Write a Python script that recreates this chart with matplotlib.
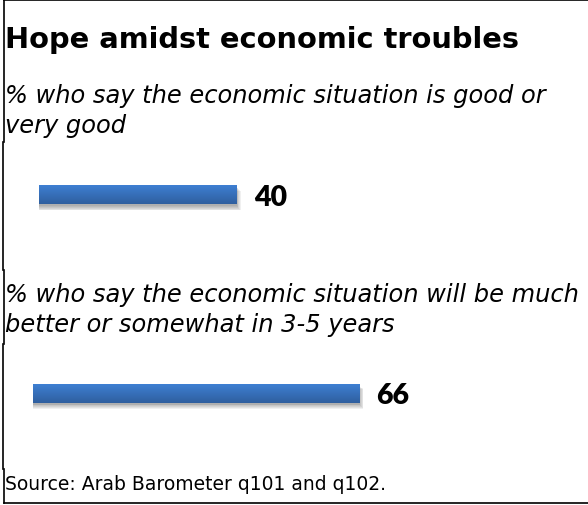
import numpy as np
import matplotlib.pyplot as plt
from matplotlib.lines import Line2D
from matplotlib.patches import Rectangle

title = "Hope amidst economic troubles"
questions = [
    "% who say the economic situation is good or\nvery good",
    "% who say the economic situation will be much\nbetter or somewhat in 3-5 years",
]
values = [40, 66]
source = "Source: Arab Barometer q101 and q102."

W, H = 588, 506
fig = plt.figure(figsize=(W / 100, H / 100), dpi=100)
fig.patch.set_facecolor("white")


def fx(px):
    return px / W


def fy(py):
    return 1 - py / H


# frame lines (slightly ragged on the left, as pasted panels)
frame = [
    ((4, 588), (1, 1)),
    ((4, 588), (504, 504)),
    ((4, 4), (1, 143)),
    ((3, 3), (143, 271)),
    ((4, 4), (271, 345)),
    ((3, 3), (345, 470)),
    ((4, 4), (470, 504)),
]
for xs, ys in frame:
    fig.add_artist(Line2D([fx(x) for x in xs], [fy(y) for y in ys],
                          color="black", lw=1.2, transform=fig.transFigure))

fig.text(fx(5), fy(47.5), title, fontsize=20.8, fontweight="bold",
         family="DejaVu Sans", va="baseline")
# va="baseline" on multi-line text pins the last line
fig.text(fx(5), fy(133.5), questions[0], fontsize=17.4, style="italic",
         family="DejaVu Sans", va="baseline", linespacing=1.32)
fig.text(fx(5), fy(332), questions[1], fontsize=17.4, style="italic",
         family="DejaVu Sans", va="baseline", linespacing=1.32)
fig.text(fx(5), fy(490), source, fontsize=13.5, family="DejaVu Sans",
         va="baseline")

# one small axes per bar: same scale (about 4.95 px per point), different start
scale = 4.95
bar_left = [39, 33]
bar_center = [195.5, 394]
bar_h_px = 19
grad = np.linspace(0, 1, 50).reshape(-1, 1)
cmap = plt.matplotlib.colors.LinearSegmentedColormap.from_list(
    "barblue", ["#3e7fd2", "#2f5f9f"])

for left, cy, v in zip(bar_left, bar_center, values):
    ax_h = 40
    ax = fig.add_axes([fx(left), fy(cy + ax_h / 2), fx(100 * scale), ax_h / H])
    ax.axis("off")
    bars = ax.barh([0], [v], height=bar_h_px, color="#3a72bf", zorder=2)
    b = bars[0]
    # soft drop shadow underneath
    for k in range(6):
        ax.add_patch(Rectangle((-0.15 * k, -bar_h_px / 2 + 2 + k * 0.7),
                               v + k * 0.3, bar_h_px + k * 0.2,
                               color="black", alpha=0.06, lw=0, zorder=1))
    ax.imshow(grad, cmap=cmap, aspect="auto", zorder=3,
              extent=(0, v, bar_h_px / 2, -bar_h_px / 2), clip_path=b)
    ax.set_xlim(0, 100)
    ax.set_ylim(ax_h / 2, -ax_h / 2)
    ax.annotate(str(v), (v, 0), xytext=(12, -1.5), textcoords="offset points",
                fontsize=20.5, fontweight="heavy", family="Lato",
                va="center", ha="left")

fig.savefig("out.png", dpi=100)
